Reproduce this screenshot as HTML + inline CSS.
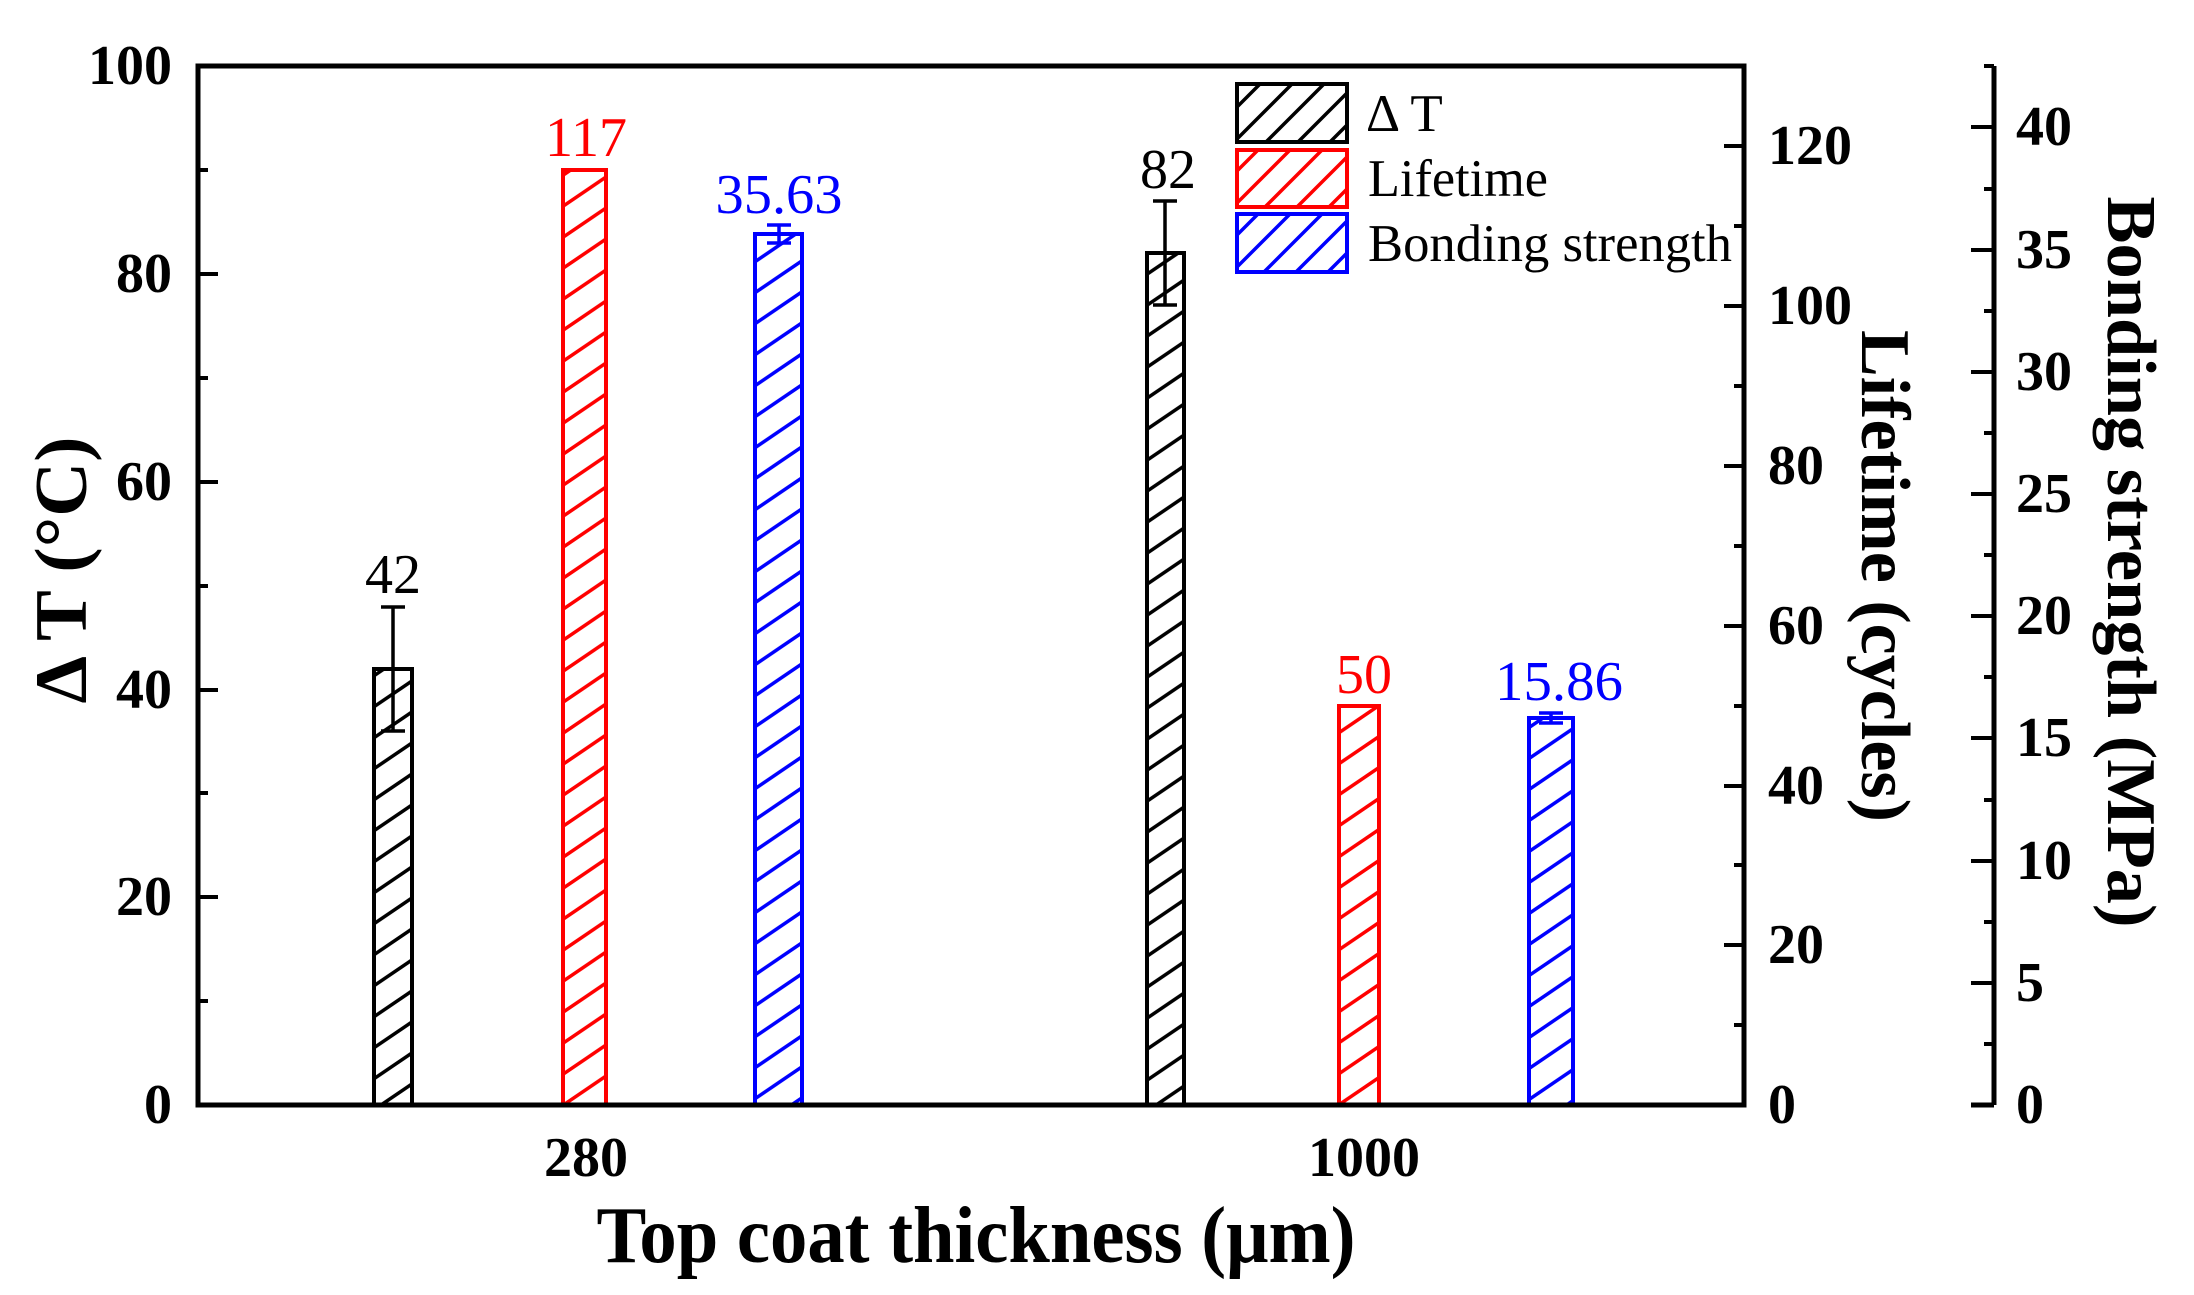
<!DOCTYPE html>
<html><head><meta charset="utf-8"><style>body{margin:0;background:#fff}svg{display:block}</style></head>
<body>
<svg width="2194" height="1295" viewBox="0 0 2194 1295" xmlns="http://www.w3.org/2000/svg" font-family="'Liberation Serif', serif">
<defs>
<pattern id="hk" patternUnits="userSpaceOnUse" width="45.6" height="31"><path d="M-4,33.7 L49.6,-2.7 M-4,2.7 L4,-2.7 M41.6,33.7 L49.6,28.3" stroke="#000" stroke-width="3.5"/></pattern>
<pattern id="hr" patternUnits="userSpaceOnUse" width="45.6" height="31"><path d="M-4,33.7 L49.6,-2.7 M-4,2.7 L4,-2.7 M41.6,33.7 L49.6,28.3" stroke="#f00" stroke-width="3.5"/></pattern>
<pattern id="hb" patternUnits="userSpaceOnUse" width="45.6" height="31"><path d="M-4,33.7 L49.6,-2.7 M-4,2.7 L4,-2.7 M41.6,33.7 L49.6,28.3" stroke="#00f" stroke-width="3.5"/></pattern>
<pattern id="lk" patternUnits="userSpaceOnUse" width="32" height="32"><path d="M-4,36 L36,-4 M-4,4 L4,-4 M28,36 L36,28" stroke="#000" stroke-width="3.5"/></pattern>
<pattern id="lr" patternUnits="userSpaceOnUse" width="32" height="32"><path d="M-4,36 L36,-4 M-4,4 L4,-4 M28,36 L36,28" stroke="#f00" stroke-width="3.5"/></pattern>
<pattern id="lb" patternUnits="userSpaceOnUse" width="32" height="32"><path d="M-4,36 L36,-4 M-4,4 L4,-4 M28,36 L36,28" stroke="#00f" stroke-width="3.5"/></pattern>
</defs>

<!-- bars -->
<rect x="374" y="669" width="38" height="436" fill="url(#hk)" stroke="#000" stroke-width="4"/>
<rect x="563" y="170" width="43" height="935" fill="url(#hr)" stroke="#f00" stroke-width="4"/>
<rect x="755" y="234" width="47" height="871" fill="url(#hb)" stroke="#00f" stroke-width="4"/>
<rect x="1147" y="253" width="37" height="852" fill="url(#hk)" stroke="#000" stroke-width="4"/>
<rect x="1339" y="706" width="40" height="399" fill="url(#hr)" stroke="#f00" stroke-width="4"/>
<rect x="1529" y="718" width="44" height="387" fill="url(#hb)" stroke="#00f" stroke-width="4"/>

<!-- error bars -->
<g stroke="#000" stroke-width="3.5">
<path d="M393,607 V731 M381,607 H405 M381,731 H405"/>
<path d="M1165,201 V305 M1153,201 H1177 M1153,305 H1177"/>
</g>
<g stroke="#00f" stroke-width="3.5">
<path d="M779,225 V243 M767,225 H791 M767,243 H791"/>
<path d="M1551,713 V723 M1539,713 H1563 M1539,723 H1563"/>
</g>

<!-- bar labels -->
<g font-size="56" text-anchor="middle">
<text x="393" y="593" fill="#000">42</text>
<text x="586" y="156" fill="#f00" textLength="82" lengthAdjust="spacingAndGlyphs">117</text>
<text x="779" y="213" fill="#00f" textLength="127" lengthAdjust="spacingAndGlyphs">35.63</text>
<text x="1168" y="188" fill="#000">82</text>
<text x="1364" y="693" fill="#f00">50</text>
<text x="1559" y="700" fill="#00f" textLength="128" lengthAdjust="spacingAndGlyphs">15.86</text>
</g>

<!-- legend -->
<rect x="1237" y="84" width="110" height="58" fill="url(#lk)" stroke="#000" stroke-width="4"/>
<rect x="1237" y="150" width="110" height="57" fill="url(#lr)" stroke="#f00" stroke-width="4"/>
<rect x="1237" y="214" width="110" height="58" fill="url(#lb)" stroke="#00f" stroke-width="4"/>
<g font-size="53" fill="#000">
<text x="1366" y="131">Δ T</text>
<text x="1368" y="196" textLength="180" lengthAdjust="spacingAndGlyphs">Lifetime</text>
<text x="1368" y="261" textLength="364" lengthAdjust="spacingAndGlyphs">Bonding strength</text>
</g>

<!-- plot frame -->
<rect x="198" y="66" width="1546" height="1039" fill="none" stroke="#000" stroke-width="5"/>
<g stroke="#000" stroke-width="4">
<path d="M198,170 H208 M198,274 H218 M198,378 H208 M198,482 H218 M198,586 H208 M198,690 H218 M198,793 H208 M198,897 H218 M198,1001 H208"/>
<path d="M1744,1025 H1734 M1744,945 H1724 M1744,865 H1734 M1744,786 H1724 M1744,706 H1734 M1744,626 H1724 M1744,546 H1734 M1744,466 H1724 M1744,386 H1734 M1744,306 H1724 M1744,226 H1734 M1744,146 H1724"/>
</g>
<g stroke="#000" stroke-width="5"><path d="M1994,66 V1105 M1971,1105 H1994"/></g>
<g stroke="#000" stroke-width="4">
<path d="M1994,1044 H1984 M1994,983 H1971 M1994,922 H1984 M1994,861 H1971 M1994,800 H1984 M1994,738 H1971 M1994,677 H1984 M1994,616 H1971 M1994,555 H1984 M1994,494 H1971 M1994,433 H1984 M1994,372 H1971 M1994,311 H1984 M1994,250 H1971 M1994,189 H1984 M1994,127 H1971 M1994,66 H1984"/>
</g>

<!-- tick labels -->
<g font-size="56" font-weight="bold" fill="#000">
<g text-anchor="end">
<text x="172" y="84">100</text><text x="172" y="292">80</text><text x="172" y="500">60</text>
<text x="172" y="708">40</text><text x="172" y="915">20</text><text x="172" y="1123">0</text>
</g>
<text x="1768" y="164">120</text><text x="1768" y="324">100</text><text x="1768" y="484">80</text>
<text x="1768" y="644">60</text><text x="1768" y="804">40</text><text x="1768" y="963">20</text><text x="1768" y="1123">0</text>
<text x="2016" y="145">40</text><text x="2016" y="268">35</text><text x="2016" y="390">30</text>
<text x="2016" y="512">25</text><text x="2016" y="634">20</text><text x="2016" y="756">15</text>
<text x="2016" y="879">10</text><text x="2016" y="1001">5</text><text x="2016" y="1123">0</text>
<g text-anchor="middle">
<text x="586" y="1176">280</text><text x="1364" y="1176">1000</text>
</g>
</g>

<!-- axis titles -->
<g font-weight="bold" fill="#000" text-anchor="middle">
<text x="976" y="1262" font-size="80" textLength="759" lengthAdjust="spacingAndGlyphs">Top coat thickness (μm)</text>
<text transform="translate(86,570) rotate(-90)" font-size="74" textLength="267" lengthAdjust="spacingAndGlyphs">Δ T (°C)</text>
<text transform="translate(1862,576) rotate(90)" font-size="70" textLength="492" lengthAdjust="spacingAndGlyphs">Lifetime (cycles)</text>
<text transform="translate(2108,562) rotate(90)" font-size="70" textLength="731" lengthAdjust="spacingAndGlyphs">Bonding strength (MPa)</text>
</g>
</svg>
</body></html>
